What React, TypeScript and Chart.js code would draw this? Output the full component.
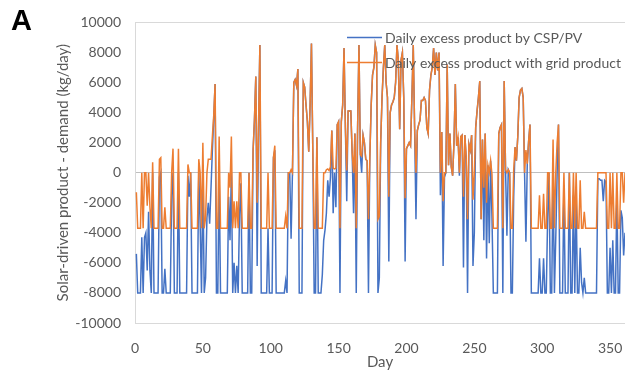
import React, { useEffect, useRef } from "react";
import { Chart, registerables } from "chart.js";
Chart.register(...registerables);

const seriesLabels = ["Daily excess product by CSP/PV", "Daily excess product with grid product"];
const xTickLabels = [0, 50, 100, 150, 200, 250, 300, 350];
const yTickLabels = [-10000, -8000, -6000, -4000, -2000, 0, 2000, 4000, 6000, 8000, 10000];

const cspPv = [
  -5400,-8000,-8000,-8000,-4300,-8000,-4300,-4000,-6500,-2600,
  -6500,-8000,0,-8000,-8000,-8000,-8000,-300,0,-8000,
  -8000,-6400,-8000,-8000,-8000,-8000,-1500,0,-8000,-8000,
  -8000,0,-8000,-8000,-8000,-8000,-8000,-8000,-200,-1600,
  0,-8000,-8000,-8000,-8000,-8000,0,-3500,-8000,0,
  -8000,-7000,-3000,-2000,-3400,-1000,1500,3600,5900,-8000,
  -8000,0,-8000,-8000,-8000,-8000,-8000,-8000,-1600,-4500,
  0,-8000,-6000,-8000,-6200,-8000,-2800,-700,-8000,-8000,
  -8000,-8000,-8000,0,-8000,-8000,1500,3500,6400,-6200,
  3000,8500,-8000,-8000,-8000,-8000,-8000,-3700,-8000,-8000,
  -8000,1000,1500,-8000,-8000,-8000,-8000,-8000,-8000,-8000,
  -7200,-8000,0,0,-4400,0,6000,6200,5800,6900,
  -8000,-8000,-8000,6000,5700,4500,3400,1400,4500,8600,
  1500,-8000,-8000,2350,-8000,-8000,-8000,-6800,-4500,-3800,
  -2700,-500,-1600,-300,2800,-2700,0,-2300,3200,3400,
  -8000,3400,4500,8300,3000,-1900,4100,4100,4100,1300,
  -2700,2600,-8000,3000,8500,1200,0,2500,2000,900,
  800,-8000,1000,4500,6500,7000,8500,8000,-8000,-7000,
  2000,5000,7000,8500,6000,5000,-5900,4000,4500,4700,
  5000,6000,8500,7500,2900,7500,8000,5000,-5900,1600,
  1800,2000,1800,5000,8500,3000,-3100,2800,3200,3500,
  4800,4800,5000,4800,3000,2600,5500,6500,7000,8300,
  6500,8000,6800,8000,-1500,2700,-6200,-300,0,7200,
  500,2600,400,-200,2000,5900,1800,2350,-200,2400,
  2500,-6300,2500,1000,-8000,1900,1500,2500,-6200,-4000,
  3000,4100,5000,6100,-3100,2200,-4500,2600,-5700,500,
  -4700,800,-3000,-8000,-8000,-8000,-8000,2600,3000,3200,
  -8000,6100,200,-4200,200,0,-8000,-8000,-1600,1700,
  800,2400,5000,5500,5600,5000,0,-4600,600,2100,
  3200,-8000,-8000,-8000,-8000,-8000,-8000,-5700,-8000,-8000,
  -5700,-8000,-8000,-3000,0,-8000,-8000,0,-8000,-4300,
  0,3200,-8000,-8000,-8000,-1000,-8000,-8000,-8000,0,
  -8000,-8000,-1500,-8000,-2000,-8000,-8000,-5000,-7300,-8000,
  -7000,-8000,-8000,-8000,-8000,-8000,-8000,-8000,-8000,-8000,
  -400,-400,-500,-500,-1900,-500,-600,-8000,-8000,-5000,
  -8000,-4500,-8000,-8000,-1500,-8000,-8000,-2500,-3000,-5500,
  -4000,-8000,-8000,-8000,-8000
];

const withGrid = [
  -1300,-3700,-3700,-3700,0,-3700,0,0,-2200,0,
  -2300,-3700,700,-3700,-3700,-3700,-3700,900,1000,-3700,
  -3700,-2300,-3700,-3700,-3700,-3700,0,1600,-3700,-3700,
  -3700,1600,-3700,-3700,-3700,-3700,-3700,-3700,550,0,
  0,-3700,-3700,-3700,-3700,-3700,900,0,-3700,2000,
  -3700,-3000,0,900,900,900,2400,3800,5900,-3700,
  -3700,2400,-3700,-3700,-3700,-3700,-3700,-3700,0,-1000,
  2400,-3700,-1900,-3700,-1900,-3700,0,0,-3700,-3700,
  -3700,-3700,-3700,0,-3700,-3700,1500,3500,6400,-2000,
  3000,8500,-3700,-3700,-3700,-3700,-3700,0,-3700,-3700,
  -3700,1000,1800,-3700,-3700,-3700,-3700,-3700,-3700,-3700,
  -2900,-3700,0,0,200,0,6000,6200,5800,6900,
  -3700,-3700,-3700,6000,5700,4500,3400,1400,4500,8600,
  1500,-3700,-3700,2350,-3700,-3700,-3700,-3700,0,0,
  200,250,150,400,2800,300,250,300,3200,3400,
  -3700,3400,4500,8300,3000,150,4100,4100,4100,1300,
  0,2600,-3700,3000,8500,1200,1100,2500,2000,900,
  800,-3100,1000,4500,6500,7000,8500,8000,-3100,-2900,
  2000,5000,7000,8500,6000,5000,-1600,4000,4500,4700,
  5000,6000,8500,7500,2900,7500,8000,5000,-1700,1600,
  1800,2000,1800,5000,8500,3000,0,2800,3200,3500,
  4800,4800,5000,4800,3000,2600,5500,6500,7000,8300,
  6500,8000,6800,8000,0,2700,-1900,0,0,7200,
  500,2600,400,-200,2000,5900,1800,2350,0,2400,
  2500,-1600,2500,1000,-3100,1900,1500,2500,-1800,0,
  3000,4100,5000,6100,-3100,2200,-1000,2600,-2000,500,
  0,800,-100,-3700,-3700,-3700,-3700,2600,3000,3200,
  -3700,6100,200,0,200,0,-3700,-3700,200,1700,
  800,2400,5000,5500,5600,5000,0,1500,600,2100,
  3200,-3700,-3700,-3700,-3700,-3700,-3700,-1500,-3700,-3700,
  -1400,-3700,-3700,0,0,-3700,-3700,2200,-3700,0,
  2000,3200,-3700,-3700,-3700,0,-3700,-3700,-3700,0,
  -3700,-3700,0,-3700,0,-3700,-3700,-500,-3700,-3700,
  -2600,-3700,-3700,-3700,-3700,-3700,-3700,-3700,-3700,-3700,
  0,0,0,0,0,0,0,-3700,-3700,0,
  -3700,0,-3700,-3700,0,-3700,-3700,0,0,-2000,
  0,-3700,-3700,-3700,-3700
];

const BLUE = "#4472C4";
const ORANGE = "#ED7D31";
const TEXT = "#595959";
const FONT = "Lato";

const insideLegend = {
  id: "insideLegend",
  afterDraw(chart: any) {
    const { ctx, chartArea } = chart;
    const items = [
      { label: seriesLabels[0], color: BLUE },
      { label: seriesLabels[1], color: ORANGE },
    ];
    items.forEach((it, k) => {
      const y = chartArea.top + 15 + k * 25;
      const x0 = chartArea.left + 212;
      ctx.save();
      ctx.strokeStyle = it.color;
      ctx.lineWidth = 1.5;
      ctx.beginPath();
      ctx.moveTo(x0, y);
      ctx.lineTo(x0 + 35, y);
      ctx.stroke();
      ctx.fillStyle = TEXT;
      ctx.font = `14px ${FONT}`;
      ctx.textBaseline = "middle";
      ctx.textAlign = "left";
      ctx.fillText(it.label, x0 + 38, y + 1);
      ctx.restore();
    });
  },
};

export default function App() {
  const ref = useRef<HTMLCanvasElement>(null);
  useEffect(() => {
    const days = cspPv.map((_, i) => i + 1);
    const chart = new Chart(ref.current as HTMLCanvasElement, {
      type: "line",
      data: {
        datasets: [
          {
            label: seriesLabels[0],
            data: days.map((d, i) => ({ x: d, y: cspPv[i] })),
            borderColor: BLUE,
            backgroundColor: BLUE,
            borderWidth: 1.5,
            pointRadius: 0,
            tension: 0,
            order: 1,
          },
          {
            label: seriesLabels[1],
            data: days.map((d, i) => ({ x: d, y: withGrid[i] })),
            borderColor: ORANGE,
            backgroundColor: ORANGE,
            borderWidth: 1.5,
            pointRadius: 0,
            tension: 0,
            order: 0,
          },
        ],
      },
      options: {
        animation: false,
        responsive: false,
        maintainAspectRatio: false,
        layout: { padding: { left: 46, top: 20, right: 0, bottom: 0 } },
        plugins: { legend: { display: false }, tooltip: { enabled: false } },
        scales: {
          x: {
            type: "linear",
            min: 0,
            max: 361,
            afterFit: (s: any) => { s.height = 49; s.paddingRight = 0; s.paddingLeft = 0; },
            afterBuildTicks: (s: any) => { s.ticks = xTickLabels.map((v) => ({ value: v })); },
            ticks: { color: TEXT, font: { family: FONT, size: 14 }, padding: 9, maxRotation: 0, autoSkip: false, callback: (v: any) => String(v) },
            grid: { display: false },
            border: { display: true, color: "#D9D9D9", width: 1 },
            title: { display: true, text: "Day", color: TEXT, font: { family: FONT, size: 15 }, padding: { top: 0, bottom: 1 } },
          },
          y: {
            min: -10000,
            max: 10000,
            afterFit: (s: any) => { s.width = 89; },
            afterBuildTicks: (s: any) => { s.ticks = yTickLabels.map((v) => ({ value: v })); },
            ticks: { color: TEXT, font: { family: FONT, size: 14 }, padding: 14, callback: (v: any) => String(v) },
            grid: {
              drawTicks: false,
              color: (c: any) => (c.tick && c.tick.value === 0 ? "#BFBFBF" : c.tick && c.tick.value === 10000 ? "#D9D9D9" : "rgba(0,0,0,0)"),
              lineWidth: 1,
            },
            border: { display: true, color: "#D9D9D9", width: 1 },
            title: { display: true, text: "Solar-driven product - demand (kg/day)", color: TEXT, font: { family: FONT, size: 15 }, padding: { top: 8, bottom: 0 } },
          },
        },
      },
      plugins: [insideLegend],
    } as any);
    return () => chart.destroy();
  }, []);
  return (
    <div style={{ position: "fixed", left: 0, top: 0, width: 625, height: 372, background: "#fff" }}>
      <canvas ref={ref} width={625} height={372} style={{ width: 625, height: 372, display: "block" }} />
      <div style={{ position: "absolute", left: 11, top: 3, fontFamily: "Liberation Sans, Arial, sans-serif", fontWeight: "bold", fontSize: 29, lineHeight: "34px", color: "#000" }}>A</div>
    </div>
  );
}
